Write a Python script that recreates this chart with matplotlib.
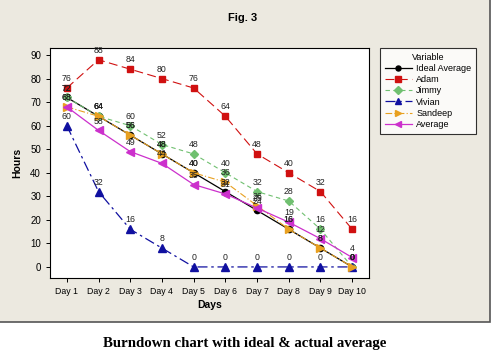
import matplotlib
matplotlib.use("Agg")
import matplotlib.pyplot as plt
from matplotlib.patches import Rectangle

days = ["Day 1", "Day 2", "Day 3", "Day 4", "Day 5", "Day 6", "Day 7", "Day 8", "Day 9", "Day 10"]
ideal = [72, 64, 56, 48, 40, 32, 24, 16, 8, 0]
adam = [76, 88, 84, 80, 76, 64, 48, 40, 32, 16]
jimmy = [72, 64, 60, 52, 48, 40, 32, 28, 16, 0]
vivian = [60, 32, 16, 8, 0, 0, 0, 0, 0, 0]
sandeep = [68, 64, 56, 48, 40, 36, 26, 16, 8, 0]
average = [68, 58, 49, 44, 35, 31, 25, 19, 12, 4]

plt.rcParams['font.family'] = ['Liberation Sans', 'DejaVu Sans']

fig = plt.figure(figsize=(5.0, 3.51), dpi=100)
fig.patch.set_facecolor('white')
panel = Rectangle((-0.01, 1 - 322/351), 490/500 + 0.01, 322/351 + 0.01, transform=fig.transFigure,
                  facecolor='#ECE9E0', edgecolor='#555555', linewidth=1.2, zorder=-10)
fig.add_artist(panel)

ax = fig.add_axes([50/500, 1 - 278/351, (369-50)/500, (278-48)/351])
ax.set_zorder(1)
ax.set_facecolor('white')
x = list(range(1, 11))

series = [
    ("Ideal Average", ideal, dict(color='black', linestyle='-', marker='o', markersize=4.5, linewidth=0.9)),
    ("Adam", adam, dict(color='#D01010', linestyle=(0, (8, 4)), marker='s', markersize=5, linewidth=0.8)),
    ("Jimmy", jimmy, dict(color='#70C070', linestyle=(0, (4, 3)), marker='D', markersize=4.5, linewidth=0.8)),
    ("Vivian", vivian, dict(color='#1010A0', linestyle=(0, (8, 3, 2, 3)), marker='^', markersize=5.5, linewidth=0.9)),
    ("Sandeep", sandeep, dict(color='#E8A020', linestyle=(0, (6, 2, 1, 2)), marker='>', markersize=5.5, linewidth=0.8)),
    ("Average", average, dict(color='#CC30CC', linestyle='-', marker='<', markersize=5.5, linewidth=0.9)),
]

for name, vals, st in series:
    ax.plot(x, vals, label=name, **st)
    for xi, v in zip(x, vals):
        ax.annotate(str(v), (xi, v), xytext=(0, 3.5), textcoords='offset points',
                    ha='center', va='bottom', fontsize=6.3, color='#222222')

ax.set_xlim(0.47, 10.53)
ax.set_ylim(-4.7, 93)
ax.set_xticks(x)
ax.set_xticklabels(days, fontsize=6.3)
ax.set_yticks(range(0, 91, 10))
ax.tick_params(axis='y', labelsize=7, length=3, width=0.7)
ax.tick_params(axis='x', length=3, width=0.7)
for s in ax.spines.values():
    s.set_linewidth(0.8)
ax.set_xlabel("Days", fontsize=7.5, fontweight='bold', labelpad=3)
ax.set_ylabel("Hours", fontsize=7.5, fontweight='bold', labelpad=6)

leg = fig.legend(loc='upper left', bbox_to_anchor=(380/500, 1 - 48/351), bbox_transform=fig.transFigure,
                 borderaxespad=0, title="Variable", fontsize=6.5, title_fontsize=6.5, frameon=True,
                 fancybox=False, edgecolor='black', handlelength=3.0, labelspacing=0.25, borderpad=0.5,
                 handletextpad=0.5, markerscale=0.8)
leg.get_frame().set_linewidth(0.8)
leg.get_frame().set_facecolor('white')

fig.text(243/500, 1 - 18/351, "Fig. 3", ha='center', va='center', fontsize=8, fontweight='bold')
fig.text(245/500, 1 - 343/351, "Burndown chart with ideal & actual average", ha='center', va='center',
         fontsize=10.7, fontweight='bold', family=['Liberation Serif', 'DejaVu Serif'])

fig.savefig("out.png", dpi=100)
